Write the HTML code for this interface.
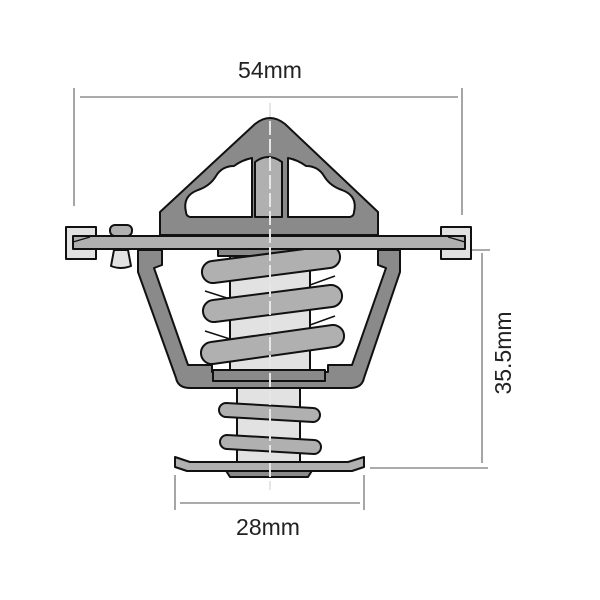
<!DOCTYPE html>
<html><head><style>html,body{margin:0;padding:0;background:#fff}svg{display:block}</style></head>
<body>
<svg width="600" height="600" viewBox="0 0 600 600" xmlns="http://www.w3.org/2000/svg">
<g stroke="#777" stroke-width="1.3" fill="none">
<line x1="80" y1="97" x2="458" y2="97"/>
<line x1="74" y1="88" x2="74" y2="206"/>
<line x1="462" y1="88" x2="462" y2="215"/>
<line x1="482" y1="253" x2="482" y2="463"/>
<line x1="470" y1="250" x2="490" y2="250"/>
<line x1="370" y1="468" x2="488" y2="468"/>
<line x1="180" y1="503" x2="360" y2="503"/>
<line x1="175" y1="475" x2="175" y2="510"/>
<line x1="364" y1="475" x2="364" y2="510"/>
</g>
<g font-family="Liberation Sans, sans-serif" font-size="23" fill="#222" text-anchor="middle">
<text x="270" y="78">54mm</text>
<text x="268" y="535">28mm</text>
<text transform="translate(511,353) rotate(-90)">35.5mm</text>
</g>
<g stroke="#111" stroke-width="2" stroke-linejoin="round">
<path d="M160 235 L160 212 L255 124 Q270 112 285 124 L378 212 L378 235 Z" fill="#8a8a8a"/>
<path d="M186 212 Q182 196 198 190 Q210 186 216 176 Q222 166 234 166 Q242 160 252 158 L252 217 L190 217 Q186 216 186 212 Z" fill="#fff"/>
<path d="M354 212 Q358 196 342 190 Q330 186 324 176 Q318 166 306 166 Q298 160 288 158 L288 217 L350 217 Q354 216 354 212 Z" fill="#fff"/>
<path d="M255 217 L255 162 Q268 152 282 162 L282 217 Z" fill="#b0b0b0"/>
<path d="M138 250 L138 272 L176 378 Q178 388 190 388 L350 388 Q362 388 364 378 L400 272 L400 250 L378 250 L378 265 L386 268 L352 365 L328 365 L328 372 L212 372 L212 365 L188 365 L154 268 L162 265 L162 250 Z" fill="#8a8a8a"/>
<rect x="213" y="370" width="112" height="11" fill="#8a8a8a"/>
<rect x="230" y="249" width="80" height="121" fill="#e2e2e2"/>
<rect x="218" y="249" width="100" height="7" fill="#8a8a8a"/>
<g stroke-width="1.5" fill="none"><path d="M205 291 L230 299 M205 331 L230 339 M335 276 L310 285 M335 316 L310 325"/></g>
<g fill="#b0b0b0">
<path d="M212 261 L328 246 A11 11 0 0 1 330 268 L214 283 A11 11 0 0 1 212 261 Z"/>
<path d="M213 300 L330 285 A11 11 0 0 1 332 307 L215 322 A11 11 0 0 1 213 300 Z"/>
<path d="M211 342 L332 325 A11 11 0 0 1 334 347 L213 364 A11 11 0 0 1 211 342 Z"/>
</g>
<rect x="66" y="227" width="30" height="32" fill="#e2e2e2"/>
<rect x="441" y="227" width="30" height="32" fill="#e2e2e2"/>
<path d="M73 236 L465 236 L465 249 L73 249 Z" fill="#b0b0b0"/>
<path d="M73 242 L90 237 M465 242 L448 237" stroke-width="1.2"/>
<rect x="110" y="225" width="22" height="11" rx="5" fill="#b0b0b0"/>
<path d="M114 250 L128 250 L131 266 Q121 270 111 266 Z" fill="#e2e2e2"/>
<rect x="237" y="388" width="63" height="76" fill="#e2e2e2"/>
<g fill="#b0b0b0">
<path d="M226 403 L313 408 A7 7 0 0 1 313 422 L226 417 A7 7 0 0 1 226 403 Z"/>
<path d="M227 435 L314 440 A7 7 0 0 1 314 454 L227 449 A7 7 0 0 1 227 435 Z"/>
</g>
<path d="M225 469 L313 469 L308 477 L230 477 Z" fill="#8a8a8a"/>
<path d="M175 457 L190 462 L348 462 L364 457 L364 467 L352 471 L187 471 L175 467 Z" fill="#b0b0b0"/>
</g>
<line x1="270" y1="103" x2="270" y2="490" stroke="#fff" stroke-width="2" stroke-dasharray="14 4"/>
<line x1="270" y1="103" x2="270" y2="490" stroke="#999" stroke-width="0.8" stroke-dasharray="14 4" stroke-opacity="0.6"/>
</svg>
</body></html>
